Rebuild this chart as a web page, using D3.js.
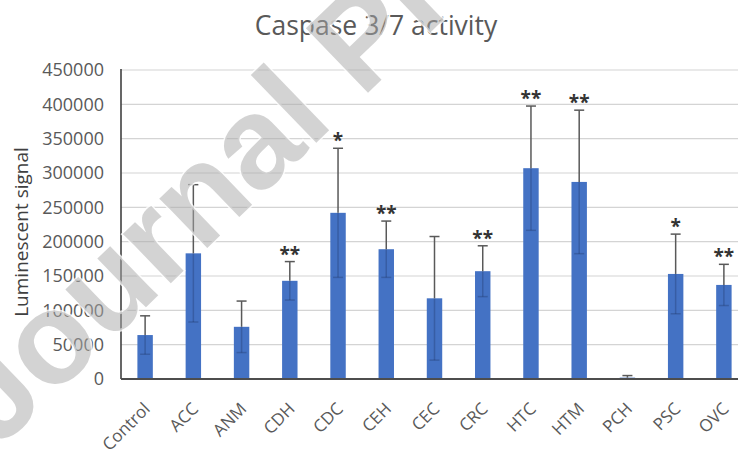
<!DOCTYPE html>
<html>
<head>
<meta charset="utf-8">
<script src="https://cdn.jsdelivr.net/npm/d3@7"></script>
<style>
  html, body { margin: 0; padding: 0; background: #fff; }
  svg { display: block; }
</style>
</head>
<body>
<script>
// Caspase 3/7 luminescence per extract, mean ± SD with significance marks
const categories = ["Control", "ACC", "ANM", "CDH", "CDC", "CEH", "CEC", "CRC", "HTC", "HTM", "PCH", "PSC", "OVC"];
const means  = [64000, 183000, 76000, 143000, 242000, 189000, 117500, 157000, 307000, 287000, 2000, 153000, 137000];
const errors = [28000, 100000, 37500, 28000, 94000, 41000, 90000, 37000, 90500, 104500, 3000, 58000, 30000];
const signif = ["", "", "", "**", "*", "**", "", "**", "**", "**", "", "*", "**"];
const yTicks = [0, 50000, 100000, 150000, 200000, 250000, 300000, 350000, 400000, 450000];
const chartTitle = "Caspase 3/7 activity";
const yTitle = "Luminescent signal";
const stamp = "Journal Pre-proof";

const W = 738, H = 451;
const font = "'Open Sans', 'Liberation Sans', sans-serif";

const svg = d3.select("body").append("svg")
  .attr("width", W).attr("height", H)
  .style("background", "#fff");

const plot = { left: 121, top: 70, bottom: 379, right: 748 };

const x = d3.scaleBand()
  .domain(categories)
  .range([plot.left, plot.right])
  .paddingInner(0.68)
  .paddingOuter(0.34);

const y = d3.scaleLinear()
  .domain([0, 450000])
  .range([plot.bottom, plot.top]);

// horizontal gridlines
svg.append("g").selectAll("line")
  .data(yTicks.filter(d => d > 0))
  .join("line")
  .attr("x1", plot.left).attr("x2", W)
  .attr("y1", d => y(d)).attr("y2", d => y(d))
  .attr("stroke", "#d4d4d4").attr("stroke-width", 1.2);

// y tick labels
const yAxis = d3.axisLeft(y).tickValues(yTicks).tickSize(0).tickPadding(17)
  .tickFormat(d3.format("d"));
const gy = svg.append("g").attr("transform", `translate(${plot.left},0)`).call(yAxis);
gy.select(".domain").remove();
gy.selectAll("text")
  .attr("font-family", font).attr("font-size", 18).attr("fill", "#595959");

// bars
svg.append("g").selectAll("rect")
  .data(categories)
  .join("rect")
  .attr("x", d => x(d))
  .attr("width", x.bandwidth())
  .attr("y", (d, i) => y(means[i]))
  .attr("height", (d, i) => y(0) - y(means[i]))
  .attr("fill", "#4472c4");

// error bars
const eb = svg.append("g");
categories.forEach((c, i) => {
  const cx = x(c) + x.bandwidth() / 2;
  const top = y(means[i] + errors[i]);
  const mid = y(means[i]);
  const low = y(Math.max(0, means[i] - errors[i]));
  eb.append("line")
    .attr("x1", cx).attr("x2", cx).attr("y1", mid).attr("y2", low)
    .attr("stroke", "#1c2f5a").attr("stroke-opacity", 0.3).attr("stroke-width", 1.5);
  eb.append("line")
    .attr("x1", cx - 5).attr("x2", cx + 5).attr("y1", low).attr("y2", low)
    .attr("stroke", "#1c2f5a").attr("stroke-opacity", 0.3).attr("stroke-width", 1.5);
  eb.append("line")
    .attr("x1", cx).attr("x2", cx).attr("y1", top).attr("y2", mid)
    .attr("stroke", "#595959").attr("stroke-width", 1.5);
  eb.append("line")
    .attr("x1", cx - 5).attr("x2", cx + 5).attr("y1", top).attr("y2", top)
    .attr("stroke", "#595959").attr("stroke-width", 1.5);
});

// significance asterisks
svg.append("g").selectAll("text")
  .data(categories)
  .join("text")
  .attr("x", d => x(d) + x.bandwidth() / 2)
  .attr("y", (d, i) => y(means[i] + errors[i]) - 1)
  .attr("text-anchor", "middle")
  .attr("font-family", font).attr("font-size", 19).attr("font-weight", 700)
  .attr("fill", "#333")
  .text((d, i) => signif[i]);

// axis lines
svg.append("line")
  .attr("x1", plot.left).attr("x2", plot.left)
  .attr("y1", plot.top - 1).attr("y2", plot.bottom)
  .attr("stroke", "#404040").attr("stroke-width", 1.6);
svg.append("line")
  .attr("x1", plot.left).attr("x2", W)
  .attr("y1", plot.bottom).attr("y2", plot.bottom)
  .attr("stroke", "#4d4d4d").attr("stroke-width", 2);

// category labels, rotated
const xAxis = d3.axisBottom(x).tickSize(0).tickPadding(0);
const gx = svg.append("g").attr("transform", `translate(0,${plot.bottom})`).call(xAxis);
gx.select(".domain").remove();
gx.selectAll("text")
  .attr("font-family", font).attr("font-size", 17).attr("fill", "#595959")
  .attr("text-anchor", "end")
  .attr("dy", null)
  .attr("transform", "translate(6,31) rotate(-45)");

// chart title
svg.append("text")
  .attr("x", 376).attr("y", 35)
  .attr("text-anchor", "middle")
  .attr("font-family", font).attr("font-size", 26.5).attr("fill", "#595959")
  .text(chartTitle);

// y axis title
svg.append("text")
  .attr("transform", "translate(28,232) rotate(-90)")
  .attr("text-anchor", "middle")
  .attr("font-family", font).attr("font-size", 19).attr("fill", "#404040")
  .text(yTitle);

// stamp across the figure
svg.append("text")
  .attr("transform", "translate(-2,450) rotate(-44)")
  .attr("font-family", "'Liberation Sans', Arial, sans-serif")
  .attr("font-size", 130).attr("font-weight", 700)
  .attr("fill", "#a8a8a8").attr("fill-opacity", 0.5)
  .attr("stroke", "#fff").attr("stroke-width", 3).attr("stroke-opacity", 0.8)
  .attr("paint-order", "stroke")
  .text(stamp);
</script>
</body>
</html>
